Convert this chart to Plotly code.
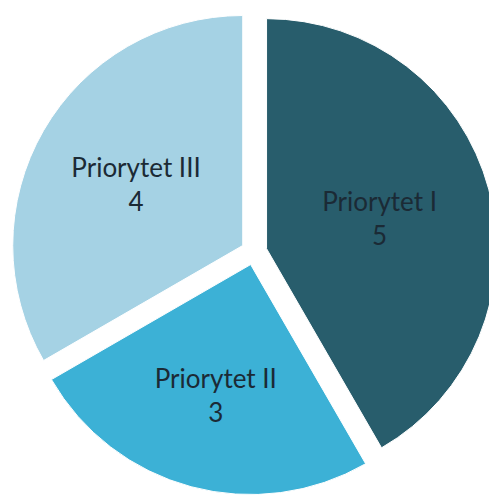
import plotly.graph_objects as go

labels = ["Priorytet I", "Priorytet II", "Priorytet III"]
values = [5, 3, 4]
colors = ["#285d6c", "#3cb1d6", "#a5d2e4"]

fig = go.Figure(go.Pie(
    labels=labels,
    values=values,
    sort=False,
    direction="clockwise",
    rotation=0,
    pull=[0.0565, 0.0565, 0.0565],
    marker=dict(colors=colors, line=dict(color="#ffffff", width=1)),
    texttemplate="%{label}<br>%{value}",
    textposition="inside",
    insidetextorientation="horizontal",
    textfont=dict(family="Lato, Open Sans, sans-serif", size=26, color="#1b2a35"),
    hoverinfo="label+value",
    showlegend=False,
))

fig.update_layout(
    width=497, height=496,
    margin=dict(l=3, r=8, t=1, b=9),
    paper_bgcolor="#ffffff",
    plot_bgcolor="#ffffff",
    uniformtext=dict(mode="show", minsize=26),
)

fig.write_html("out.html")
